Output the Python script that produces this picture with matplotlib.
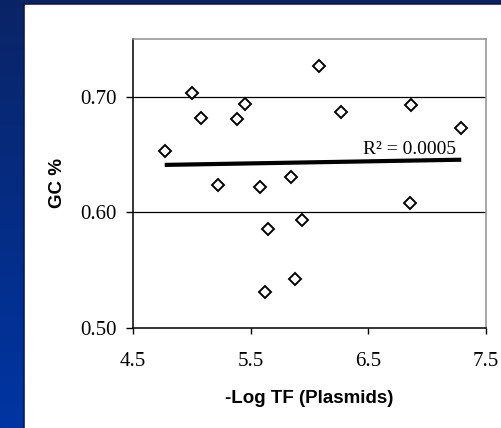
import numpy as np
import matplotlib
matplotlib.use('Agg')
import matplotlib.pyplot as plt
from matplotlib.patches import Rectangle

# -Log TF (plasmids) vs GC content
log_tf = [4.77, 5.00, 5.08, 5.22, 5.38, 5.45, 5.58, 5.65, 5.62,
          5.84, 5.94, 5.88, 6.08, 6.27, 6.86, 6.85, 7.29]
gc = [0.653, 0.703, 0.682, 0.624, 0.681, 0.694, 0.622, 0.586, 0.531,
      0.631, 0.593, 0.542, 0.727, 0.687, 0.693, 0.608, 0.673]
r2_text = 'R² = 0.0005'

W, H = 501, 428
fig = plt.figure(figsize=(W / 100, H / 100), dpi=100)

# slide background: blue gradient with white panel
bg = fig.add_axes([0, 0, 1, 1])
grad = np.linspace(0, 1, 256).reshape(-1, 1)
cmap = matplotlib.colors.LinearSegmentedColormap.from_list('slide', ['#0a2466', '#0035a3'])
bg.imshow(grad, aspect='auto', cmap=cmap, extent=[0, W, H, 0])
bg.add_patch(Rectangle((23, 3), W, H, color='#1a1a2a', zorder=2))
bg.add_patch(Rectangle((25, 5), W, H, color='white', zorder=3))
bg.set_xlim(0, W)
bg.set_ylim(H, 0)
bg.axis('off')

ax = fig.add_axes([133 / W, (H - 328) / H, 353 / W, 289 / H])
ax.set_facecolor('white')

x = np.array(log_tf)
y = np.array(gc)
slope, icpt = np.polyfit(x, y, 1)
xt = np.array([x.min(), x.max()])
ax.plot(xt, slope * xt + icpt, color='black', lw=3, solid_capstyle='butt', zorder=2)

ax.plot(x, y, linestyle='none', marker='D', markersize=6.5,
        markerfacecolor='white', markeredgecolor='black', markeredgewidth=1.4, zorder=3)

ax.text(7.245, 0.6505, r2_text, ha='right', va='baseline',
        fontsize=14, family='Liberation Serif')

ax.set_xlim(4.5, 7.5)
ax.set_ylim(0.50, 0.75)
ax.set_xticks([4.5, 5.5, 6.5, 7.5])
ax.set_xticklabels(['4.5', '5.5', '6.5', '7.5'])
ax.set_yticks([0.50, 0.60, 0.70])
ax.set_yticklabels(['0.50', '0.60', '0.70'])
for lab in ax.get_xticklabels() + ax.get_yticklabels():
    lab.set_family('Liberation Serif')
    lab.set_fontsize(15)
ax.tick_params(axis='x', direction='out', length=4, width=1, pad=13)
ax.tick_params(axis='y', direction='out', length=5, width=1, pad=7)
ax.axhline(0.60, color='black', lw=0.9, zorder=1)
ax.axhline(0.70, color='black', lw=0.9, zorder=1)

ax.spines['left'].set_color('black')
ax.spines['bottom'].set_color('black')
ax.spines['top'].set_color('#909090')
ax.spines['right'].set_color('#909090')
for s in ax.spines.values():
    s.set_linewidth(1.1)

ax.set_xlabel('-Log TF (Plasmids)', family='Liberation Sans', fontweight='bold',
              fontsize=13.5, labelpad=14)
ax.set_ylabel('GC %', family='Liberation Sans', fontweight='bold',
              fontsize=13.5, labelpad=10)

fig.savefig('out.png', dpi=100)
